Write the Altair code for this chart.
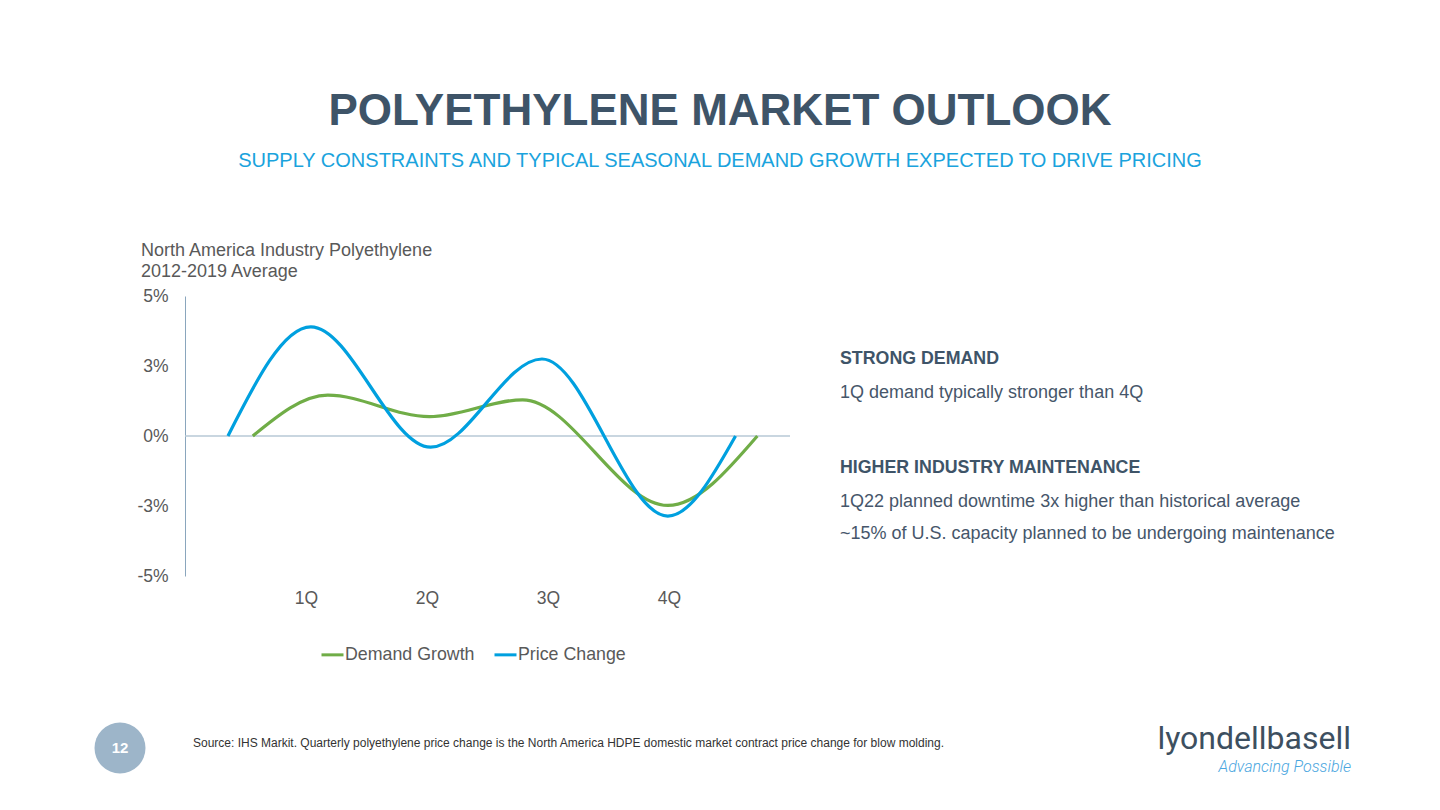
import altair as alt
import pandas as pd

# ---- data ----
series_names = ["Demand Growth", "Price Change"]
series_colors = ["#70ad47", "#00a0df"]

demand_pos = [0.56, 1.18, 2.02, 2.79, 3.99, 4.73]
demand_vals = [0.0, 1.46, 0.69, 1.29, -2.48, 0.0]
price_pos = [0.355, 1.04, 2.03, 2.95, 3.99, 4.55]
price_vals = [0.0, 3.90, -0.40, 2.75, -2.86, 0.0]

x_tick_values = [1, 2, 3, 4]
x_tick_labels = ["1Q", "2Q", "3Q", "4Q"]
y_tick_values = [-5, -2.5, 0, 2.5, 5]
y_tick_labels = ["-5%", "-3%", "0%", "3%", "5%"]

rows = []
for p, v in zip(demand_pos, demand_vals):
    rows.append({"series": series_names[0], "pos": p, "val": v})
for p, v in zip(price_pos, price_vals):
    rows.append({"series": series_names[1], "pos": p, "val": v})
df = pd.DataFrame(rows)

W, H = 605, 280
OX, OY = 185, 296  # page position of plot origin
FONT = "Liberation Sans"
DARK = "#3e5468"
GREY = "#595959"
BODY = "#46566a"

x_label_expr = "{" + ",".join(f"'{v}':'{l}'" for v, l in zip(x_tick_values, x_tick_labels)) + "}[toString(datum.value)]"
y_label_expr = "{" + ",".join(f"'{v}':'{l}'" for v, l in zip(y_tick_values, y_tick_labels)) + "}[toString(datum.value)]"

x_scale = alt.Scale(domain=[0, 5], nice=False, zero=False)
y_scale = alt.Scale(domain=[-5, 5], nice=False)

base = alt.Chart(df)

zero_line = alt.Chart(pd.DataFrame({"y": [0], "x0": [0], "x1": [5]})).mark_rule(
    color="#b7c8d6", strokeWidth=1.6
).encode(
    x=alt.X("x0:Q", scale=x_scale, axis=alt.Axis(
        values=x_tick_values, labelExpr=x_label_expr, domain=False, ticks=False, grid=False,
        labelFontSize=17.5, labelColor=GREY, labelFont=FONT, labelPadding=13, title=None)),
    x2="x1:Q",
    y=alt.Y("y:Q", scale=y_scale, axis=alt.Axis(
        values=y_tick_values, labelExpr=y_label_expr, domain=True, domainColor="#8aa6bd",
        domainWidth=1, ticks=False, grid=False, labelFontSize=17.5, labelColor=GREY,
        labelFont=FONT, labelPadding=17, title=None)),
)

lines = base.mark_line(interpolate="monotone", strokeWidth=3.2).encode(
    x=alt.X("pos:Q", scale=x_scale),
    y=alt.Y("val:Q", scale=y_scale),
    color=alt.Color("series:N", scale=alt.Scale(domain=series_names, range=series_colors),
                    legend=alt.Legend(
                        title=None, orient="none", direction="horizontal",
                        legendX=320 - OX, legendY=642 - OY,
                        symbolType="stroke", symbolSize=484, symbolStrokeWidth=3,
                        labelFontSize=17.8, labelColor=GREY, labelFont=FONT,
                        labelOffset=0, columnPadding=13, symbolOffset=0)),
    detail="series:N",
)


def txt(text, x, y, size, color, weight="normal", align="left", font=FONT, style="normal", baseline="alphabetic"):
    return alt.Chart(pd.DataFrame({"t": [text]})).mark_text(
        align=align, baseline=baseline, fontSize=size, fontWeight=weight, color=color,
        font=font, fontStyle=style
    ).encode(text="t:N", x=alt.value(x - OX), y=alt.value(y - OY))


texts = [
    txt("POLYETHYLENE MARKET OUTLOOK", 720, 125, 44, DARK, weight="bold", align="center"),
    txt("SUPPLY CONSTRAINTS AND TYPICAL SEASONAL DEMAND GROWTH EXPECTED TO DRIVE PRICING",
        720, 167, 20, "#1aa3dd", align="center"),
    txt("North America Industry Polyethylene", 141, 256, 18, GREY),
    txt("2012-2019 Average", 141, 277, 18, GREY),
    txt("STRONG DEMAND", 840, 364, 17.8, DARK, weight="bold"),
    txt("1Q demand typically stronger than 4Q", 840, 398, 18, BODY),
    txt("HIGHER INDUSTRY MAINTENANCE", 840, 473, 17.8, DARK, weight="bold"),
    txt("1Q22 planned downtime 3x higher than historical average", 840, 507, 18, BODY),
    txt("~15% of U.S. capacity planned to be undergoing maintenance", 840, 539, 18, BODY),
    txt("Source: IHS Markit. Quarterly polyethylene price change is the North America HDPE domestic market contract price change for blow molding.",
        193, 747, 12, "#333333"),
    txt("lyondellbasell", 1351, 749, 32, "#3d4f60", align="right", font="Roboto", weight="normal"),
    txt("Advancing Possible", 1351, 772, 16, "#4aa6e0", align="right", font="Roboto", style="italic", weight=300),
    txt("12", 120, 748, 15, "white", weight="bold", align="center", baseline="middle"),
]

circle = alt.Chart(pd.DataFrame({"c": [1]})).mark_circle(
    color="#9db5c9", opacity=1, size=51 * 51
).encode(x=alt.value(120 - OX), y=alt.value(748 - OY))

chart = alt.layer(zero_line, lines, circle, *texts).properties(
    width=W, height=H,
    autosize=alt.AutoSizeParams(type="none"),
    padding={"left": OX - 8, "top": OY - 8, "right": 1424 - (OX - 8) - W, "bottom": 794 - (OY - 8) - H},
    background="white",
).configure_view(stroke=None)

chart.save("out.html", embed_options={"renderer": "svg", "actions": False})
